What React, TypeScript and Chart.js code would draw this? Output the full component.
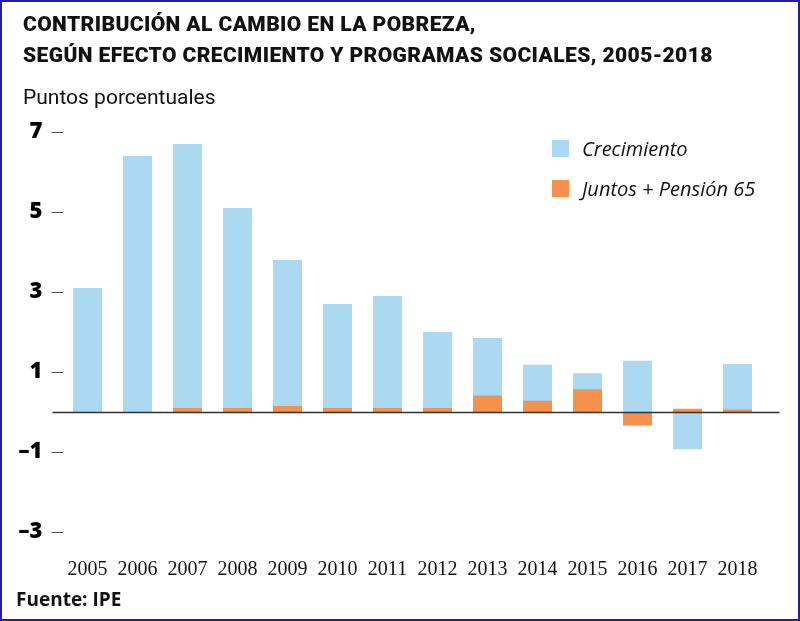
import React, { useEffect, useRef } from "react";
import { Chart, registerables } from "chart.js";

Chart.register(...registerables);

const categories = ["2005", "2006", "2007", "2008", "2009", "2010", "2011", "2012", "2013", "2014", "2015", "2016", "2017", "2018"];
const crecimiento = [3.1, 6.4, 6.7, 5.1, 3.8, 2.7, 2.9, 2.0, 1.85, 1.18, 0.97, 1.28, -0.93, 1.2];
const programas = [0, 0, 0.1, 0.1, 0.15, 0.1, 0.1, 0.1, 0.41, 0.28, 0.57, -0.34, 0.08, 0.06];
const yTicks = [-3, -1, 1, 3, 5, 7];

const BLUE = "#ABD9F1";
const ORANGE = "#F5914D";

const zeroLine = {
  id: "zeroLine",
  afterDatasetsDraw(chart: any) {
    const { ctx, chartArea, scales } = chart;
    const y = Math.round(scales.y.getPixelForValue(0)) + 0.5;
    ctx.save();
    ctx.strokeStyle = "#333";
    ctx.lineWidth = 1.5;
    ctx.beginPath();
    ctx.moveTo(chartArea.left - 10, y);
    ctx.lineTo(chartArea.right + 17, y);
    ctx.stroke();
    ctx.restore();
  },
};

export default function App() {
  const ref = useRef<HTMLCanvasElement>(null);
  useEffect(() => {
    document.body.style.margin = "0";
    const chart = new Chart(ref.current!, {
      type: "bar",
      data: {
        labels: categories,
        datasets: [
          { label: "Juntos + Pensión 65", data: programas, backgroundColor: ORANGE, order: 0 },
          { label: "Crecimiento", data: crecimiento, backgroundColor: BLUE, order: 1 },
        ],
      },
      options: {
        animation: false,
        responsive: false,
        maintainAspectRatio: false,
        datasets: { bar: { categoryPercentage: 1, barPercentage: 0.58 } },
        layout: { padding: { left: 0, right: 37.5, top: 132, bottom: 0 } },
        plugins: { legend: { display: false }, tooltip: { enabled: false } },
        scales: {
          x: {
            stacked: true,
            grid: { display: false, drawTicks: false },
            border: { display: false },
            ticks: {
              padding: 26,
              color: "#111",
              font: { family: "'Liberation Serif', serif", size: 20 },
              maxRotation: 0,
            },
            afterFit: (s: any) => { s.height = 89; },
          },
          y: {
            min: -3,
            max: 7,
            grid: { drawOnChartArea: false, drawTicks: true, tickLength: 11, tickColor: "#555", tickWidth: 1 },
            border: { display: false },
            afterBuildTicks: (s: any) => { s.ticks = yTicks.map((v) => ({ value: v })); },
            ticks: {
              padding: 9,
              color: "#000",
              font: { family: "'Open Sans', sans-serif", size: 22, weight: "800" },
              callback: (v: any) => String(v).replace("-", "\u2013"),
            },
            afterFit: (s: any) => { s.width = 62.5; },
          },
        },
      },
      plugins: [zeroLine],
    });
    return () => chart.destroy();
  }, []);

  const sq = (c: string) => ({ position: "absolute" as const, width: 17, height: 17, background: c });
  const leg = { position: "absolute" as const, left: 582, fontFamily: "'Open Sans', sans-serif", fontStyle: "italic", fontSize: 20, color: "#111", lineHeight: "26px" };

  return (
    <div style={{ position: "relative", width: 800, height: 621, background: "#fff", overflow: "hidden" }}>
      <canvas ref={ref} width={800} height={621} style={{ position: "absolute", left: 0, top: 0, width: 800, height: 621 }} />
      <div style={{ position: "absolute", left: 23, top: 9, fontFamily: "Roboto, sans-serif", fontWeight: 900, fontSize: 21, lineHeight: "31px", color: "#111", letterSpacing: "0.4px" }}>
        CONTRIBUCIÓN AL CAMBIO EN LA POBREZA,<br />SEGÚN EFECTO CRECIMIENTO Y PROGRAMAS SOCIALES, 2005-2018
      </div>
      <div style={{ position: "absolute", left: 23, top: 85, fontFamily: "Roboto, sans-serif", fontWeight: 400, fontSize: 21, color: "#111" }}>
        Puntos porcentuales
      </div>
      <div style={{ ...sq(BLUE), left: 552, top: 140 }} />
      <div style={{ ...leg, top: 136 }}>Crecimiento</div>
      <div style={{ ...sq(ORANGE), left: 552, top: 180 }} />
      <div style={{ ...leg, top: 176 }}>Juntos + Pensión 65</div>
      <div style={{ position: "absolute", left: 16, top: 586, fontFamily: "'Open Sans', sans-serif", fontWeight: 700, fontSize: 19, color: "#111" }}>Fuente: IPE</div>
      <div style={{ position: "absolute", left: 0, top: 0, width: 800, height: 621, boxSizing: "border-box", border: "2px solid #2020a8", pointerEvents: "none" }} />
    </div>
  );
}
